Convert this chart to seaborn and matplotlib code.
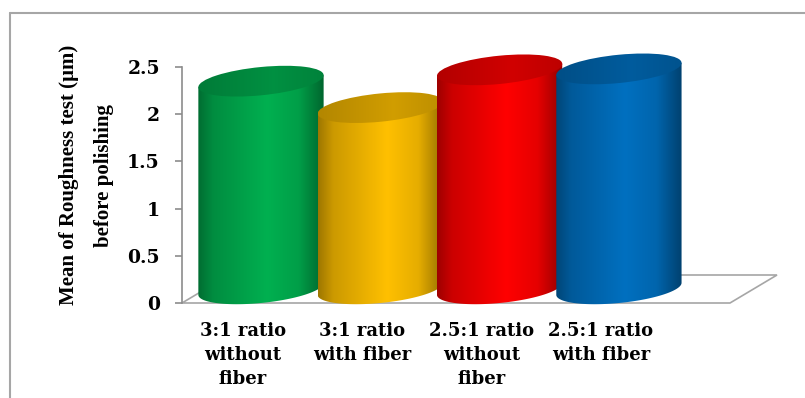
import numpy as np
import pandas as pd
import matplotlib
matplotlib.use("Agg")
import matplotlib.pyplot as plt
import matplotlib.colors as mcolors
import seaborn as sns
from matplotlib.patches import PathPatch, Ellipse, Polygon
from matplotlib.path import Path
from matplotlib.transforms import Affine2D, ScaledTranslation
from matplotlib.lines import Line2D

# ---- data ----
categories = ["3:1 ratio\nwithout\nfiber", "3:1 ratio\nwith fiber",
              "2.5:1 ratio\nwithout\nfiber", "2.5:1 ratio\nwith fiber"]
values = [2.20, 1.92, 2.32, 2.33]
colors = ["#00B050", "#FFC000", "#FF0000", "#0070C0"]
yticks = [0, 0.5, 1, 1.5, 2, 2.5]
ytick_labels = ["0", "0.5", "1", "1.5", "2", "2.5"]
ylabel = "Mean of Roughness test (µm)\nbefore polishing"

sns.set_theme(style="white")
plt.rcParams["font.family"] = ["DejaVu Serif", "DejaVu Sans"]

W, H = 805, 398
fig = plt.figure(figsize=(W / 100, H / 100), dpi=100)
fig.patch.set_facecolor("white")
ax = fig.add_axes([182 / W, (H - 303) / H, (730 - 182) / W, (303 - 67) / H])
ax.set_facecolor("none")

df = pd.DataFrame({"cat": categories, "val": values})
sns.barplot(data=df, x="cat", y="val", hue="cat", palette=colors,
            legend=False, width=1.05, saturation=1, ax=ax)

# 3D cylinder styling
base = 0.15      # depth offset of cylinder base
ell_h = 0.30     # ellipse height (data units)
k = 0.121        # perspective shear

def grad_image(color, stops, mults, n=200):
    rgb = np.array(mcolors.to_rgb(color))
    xs = np.linspace(0, 1, n)
    m = np.interp(xs, stops, mults)
    img = np.clip(rgb[None, :] * m[:, None], 0, 1)
    return img[None, :, :]

bars = [p for p in ax.patches]
for i, (p, col) in enumerate(zip(bars, colors)):
    p.set_visible(False)
    x0, w, h = p.get_x(), p.get_width(), p.get_height()
    cx = x0 + w / 2
    y0, yt = base, base + h
    T = (Affine2D().translate(-cx, 0)
         + Affine2D(np.array([[1, 0, 0], [k, 1, 0], [0, 0, 1]]))
         + Affine2D().translate(cx, 0) + ax.transData)
    t = np.linspace(np.pi, 2 * np.pi, 80)
    verts = [(x0, yt), (x0, y0)] + list(zip(cx + w / 2 * np.cos(t), y0 + ell_h / 2 * np.sin(t))) \
        + [(x0 + w, yt), (x0, yt)]
    codes = [Path.MOVETO] + [Path.LINETO] * (len(verts) - 2) + [Path.CLOSEPOLY]
    body = PathPatch(Path(verts, codes), transform=T)
    z = 2 + i * 0.1
    ext = [x0, x0 + w, y0 - ell_h - k * w, yt + ell_h + k * w]
    im = ax.imshow(grad_image(col, [0, 0.12, 0.55, 0.8, 1.0], [0.62, 0.8, 1.0, 0.9, 0.58]),
                   extent=ext, aspect="auto", interpolation="bilinear", origin="lower", zorder=z)
    im.set_clip_path(body)
    im.set_clip_box(fig.bbox)
    # top ellipse
    top = Ellipse((cx, yt), w, ell_h, transform=T)
    im2 = ax.imshow(grad_image(col, [0, 0.6, 1.0], [0.7, 0.82, 0.74]),
                    extent=ext, aspect="auto", interpolation="bilinear", origin="lower", zorder=z + 0.01)
    im2.set_clip_path(top)
    im2.set_clip_box(fig.bbox)

# floor
fx, fy = 47 / 548, 28 / 236
floor = Polygon([(0, 0), (1, 0), (1 + fx, fy), (fx, fy)], closed=True,
                transform=ax.transAxes, facecolor="white", edgecolor="#a6a6a6",
                lw=1.2, clip_on=False, zorder=0.5)
ax.add_patch(floor)

ax.set_xlim(-0.662, 3.931)
ax.set_ylim(0, 2.5)

for s in ["top", "right", "bottom"]:
    ax.spines[s].set_visible(False)
ax.spines["left"].set_color("#8c8c8c")
ax.spines["left"].set_linewidth(1.2)
ax.spines["left"].set_zorder(0.6)

ax.set_yticks(yticks, labels=ytick_labels, fontsize=13.5, fontweight="bold")
ax.tick_params(axis="y", left=True, direction="out", length=5, width=1.2,
               color="#8c8c8c", pad=11, labelcolor="black")
ax.set_xticks(range(len(categories)))
ax.set_xticklabels(categories, fontsize=13, fontweight="bold", linespacing=1.4)
ax.tick_params(axis="x", bottom=False, length=0, pad=14, labelcolor="black")
ax.set_xlabel("")
for lab in ax.get_xticklabels():
    lab.set_transform(lab.get_transform() + ScaledTranslation(-18 / 100, 0, fig.dpi_scale_trans))

ax.set_ylabel(ylabel, fontfamily="Liberation Serif", fontweight="bold",
              fontsize=15, linespacing=2.0, color="black")
ax.yaxis.label.set_va("center")
ax.yaxis.label.set_ha("center")
ax.yaxis.set_label_coords(-0.174, 0.542)

# outer frame
fig.add_artist(Line2D([10 / W, 10 / W], [0, (H - 13) / H], color="#a6a6a6", lw=1.5))
fig.add_artist(Line2D([10 / W, 1], [(H - 13) / H, (H - 13) / H], color="#a6a6a6", lw=1.5))

fig.savefig("out.png", dpi=100, facecolor="white")
